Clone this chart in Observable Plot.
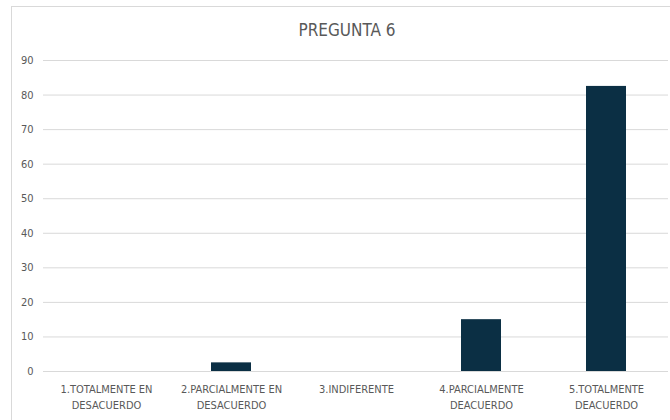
<!DOCTYPE html>
<html>
<head>
<meta charset="utf-8">
<script src="https://cdn.jsdelivr.net/npm/d3@7"></script>
<script src="https://cdn.jsdelivr.net/npm/@observablehq/plot@0.6"></script>
<style>
  html, body { margin: 0; padding: 0; background: #fff; overflow: hidden; }
  #wrap { position: relative; width: 670px; height: 420px; overflow: hidden; font-family: "Liberation Sans Narrow", "DejaVu Sans Condensed", "Roboto", sans-serif; }
  #frame { position: absolute; left: 11px; top: 6px; width: 700px; height: 440px; border: 1px solid #d9d9d9; box-sizing: border-box; }
  #title { position: absolute; left: 0; width: 694px; top: 20px; text-align: center; font-size: 17px; color: #595959; }
  #chart { position: absolute; left: 0; top: 0; }
</style>
</head>
<body>
<div id="wrap">
  <div id="frame"></div>
  <div id="chart"></div>
  <div id="title">PREGUNTA 6</div>
</div>
<script>
const categories = [
  "1.TOTALMENTE EN\nDESACUERDO",
  "2.PARCIALMENTE EN\nDESACUERDO",
  "3.INDIFERENTE",
  "4.PARCIALMENTE\nDEACUERDO",
  "5.TOTALMENTE\nDEACUERDO"
];
const values = [0, 2.5, 0, 15, 82.5];
const yTicks = [0, 10, 20, 30, 40, 50, 60, 70, 80, 90];

const data = categories.map((c, i) => ({category: c, value: values[i]}));

const chart = Plot.plot({
  width: 670,
  height: 420,
  marginTop: 60,
  marginBottom: 49,
  marginLeft: 43,
  marginRight: 2,
  style: {fontFamily: '"Liberation Sans Narrow", "DejaVu Sans Condensed", Roboto, sans-serif', fontSize: "11px", color: "#595959", background: "transparent"},
  x: {domain: categories, paddingInner: 0.68, paddingOuter: 0.34, label: null},
  y: {domain: [0, 90], label: null},
  marks: [
    Plot.gridY(yTicks, {stroke: "#d9d9d9", strokeOpacity: 1, strokeWidth: 1}),
    Plot.barY(data, {x: "category", y: "value", fill: "#0b2f44"}),
    Plot.axisY(yTicks, {tickSize: 0, tickPadding: 10, fontSize: 11, fill: "#595959", label: null}),
    Plot.axisX({tickSize: 0, tickPadding: 10, fontSize: 11, fill: "#595959", lineHeight: 1.45, label: null})
  ]
});
document.getElementById("chart").appendChild(chart);
</script>
</body>
</html>
